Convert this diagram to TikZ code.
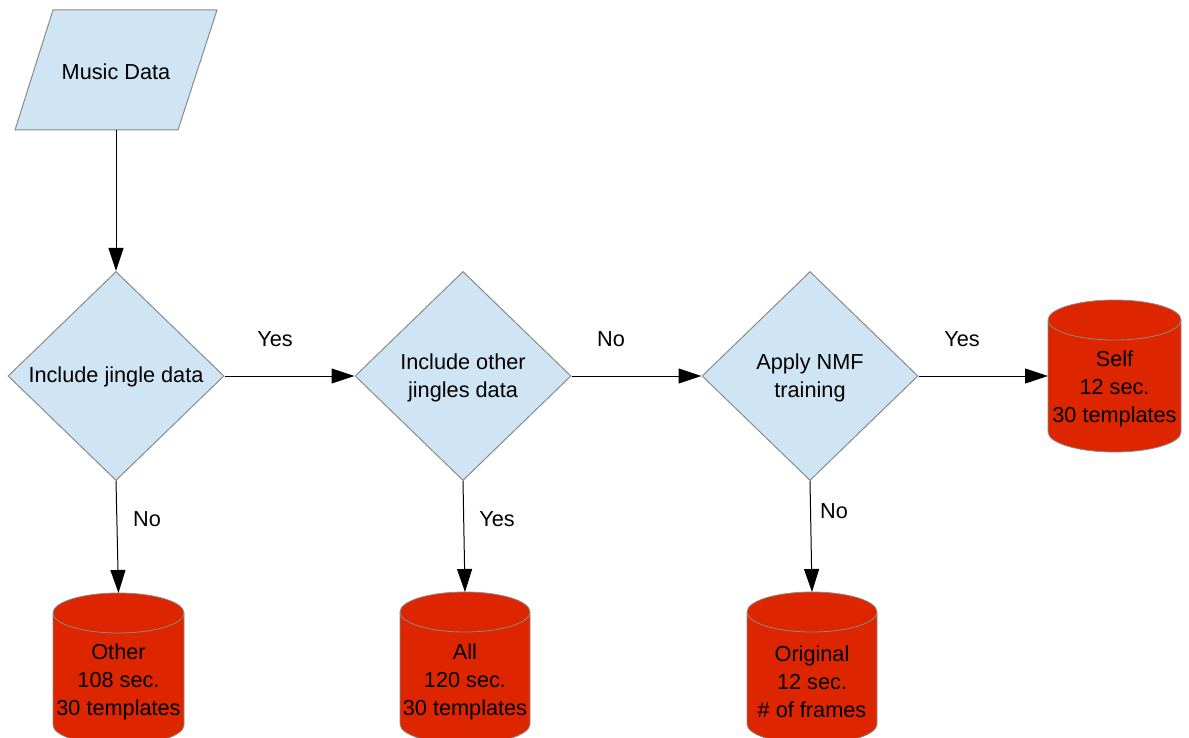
\documentclass[tikz,border=0pt]{standalone}
\usepackage{fontspec}
\setmainfont{Liberation Sans}
\usetikzlibrary{shapes.geometric,arrows.meta,calc,backgrounds}
\definecolor{decfill}{HTML}{CFE5F3}
\definecolor{dbred}{HTML}{DD2500}
\definecolor{edgegray}{HTML}{8A8A8A}

% cylinder outline drawn around a named box node: #1 = node, #2 = x radius
\newcommand\dbdraw[2]{%
  \path[dbshape] ($(#1.north west)+(0,-20)$) -- ($(#1.south west)+(0,20)$)
    arc[start angle=180,end angle=360,x radius=#2,y radius=20pt]
    -- ($(#1.north east)+(0,-20)$)
    arc[start angle=0,end angle=180,x radius=#2,y radius=20pt] -- cycle;
  \draw[dbrim] ($(#1.north west)+(0,-20)$)
    arc[start angle=180,end angle=360,x radius=#2,y radius=20pt];
}

\begin{document}
\begin{tikzpicture}[x=1pt,y=1pt,
  txt/.style={font=\fontsize{21.7}{28}\selectfont, align=center, inner sep=0pt},
  decision/.style={diamond, draw=edgegray, fill=decfill, line width=1pt,
    minimum width=216pt, minimum height=209pt, inner sep=0pt, txt},
  box/.style={rectangle, minimum width=#1, minimum height=152pt, inner sep=0pt, outer sep=0pt},
  dbshape/.style={fill=dbred, draw=edgegray, line width=0.8pt},
  dbrim/.style={draw=edgegray, line width=0.8pt},
  iofill/.style={fill=decfill, draw=edgegray, line width=1pt},
  flow/.style={draw=black, line width=1pt, -{Triangle[length=23pt,width=15pt]}},
  lbl/.style={txt}
]
\useasboundingbox (0,0) rectangle (1189,-738);

% input parallelogram
\node[rectangle, minimum width=202pt, minimum height=120pt, inner sep=0pt, outer sep=0pt] (music) at (116,-70) {};
\begin{pgfonlayer}{background}
  \path[iofill] ($(music.north west)+(38,0)$) -- (music.north east)
    -- ($(music.south east)+(-39,0)$) -- (music.south west) -- cycle;
\end{pgfonlayer}
\node[txt] (musictxt) at (116,-72) {Music Data};

% decisions (empty shapes, text set on top)
\node[decision] (incl) at (116,-376) {};
\node[decision] (other) at (463,-376) {};
\node[decision] (nmf) at (810,-376) {};
\node[txt] (incltxt) at (116,-377) {Include jingle data};
\node[txt] (othertxt) at (463,-378) {Include other\\jingles data};
\node[txt] (nmftxt) at (810,-378) {Apply NMF\\training};

% template stores
\node[box=131pt] (dbother) at (118.5,-669) {};
\node[box=130pt] (dball) at (465,-668) {};
\node[box=130pt] (dborig) at (812,-668) {};
\node[box=133pt] (dbself) at (1114.5,-376) {};
\begin{pgfonlayer}{background}
  \dbdraw{dbother}{65.5pt}
  \dbdraw{dball}{65pt}
  \dbdraw{dborig}{65pt}
  \dbdraw{dbself}{66.5pt}
\end{pgfonlayer}
\node[txt] (dbothertxt) at (118.5,-682) {Other\\108 sec.\\30 templates};
\node[txt] (dballtxt) at (465,-682) {All\\120 sec.\\30 templates};
\node[txt] (dborigtxt) at (812,-682) {Original\\12 sec.\\\# of frames};
\node[txt] (dbselftxt) at (1114.5,-389) {Self\\12 sec.\\30 templates};

% connectors
\draw[flow] (music.south) -- (incl.north);
\draw[flow] (incl.east) -- (other.west);
\draw[flow] (other.east) -- (nmf.west);
\draw[flow] (nmf.east) -- (dbself.west);
\draw[flow] (incl.south) -- (dbother.north);
\draw[flow] (other.south) -- (dball.north);
\draw[flow] (nmf.south) -- (dborig.north);

% branch labels
\node[lbl] (l1) at (275,-339) {Yes};
\node[lbl] (l2) at (611,-339) {No};
\node[lbl] (l3) at (962,-339) {Yes};
\node[lbl] (l4) at (147,-519) {No};
\node[lbl] (l5) at (497,-519) {Yes};
\node[lbl] (l6) at (834,-511) {No};
\end{tikzpicture}
\end{document}
